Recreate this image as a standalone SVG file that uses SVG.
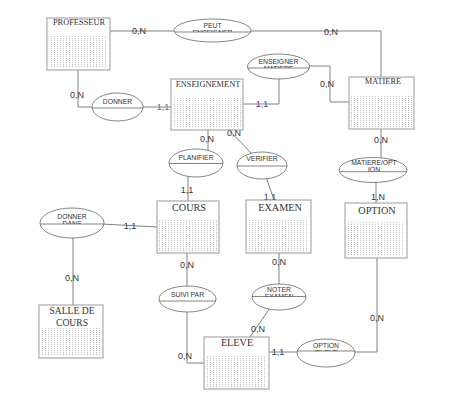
<svg xmlns="http://www.w3.org/2000/svg" width="459" height="400" viewBox="0 0 459 400">
<style>
.ent{fill:#fff;stroke:#999;stroke-width:1}
.dots{fill:url(#dots)}
.tt{font-family:"Liberation Serif",serif;fill:#333;text-anchor:middle}
.el{fill:#fff;stroke:#666;stroke-width:0.8}
.dv{stroke:#666;stroke-width:0.8}
.et{font-family:"Liberation Sans",Arial,sans-serif;font-size:6.8px;fill:#333;text-anchor:middle}
.cn{fill:none;stroke:#808080;stroke-width:1}
.lb{font-family:"Liberation Sans",Arial,sans-serif;font-size:9px;fill:#333;text-anchor:middle}
</style>
<defs>
<pattern id="dots" width="3" height="2" patternUnits="userSpaceOnUse"><rect width="1" height="1" fill="#c4c4c4"/></pattern>
<clipPath id="c1"><rect x="170" y="15" width="90" height="17"/></clipPath>
<clipPath id="c2"><rect x="240" y="50" width="80" height="18"/></clipPath>
<clipPath id="c3"><rect x="335" y="150" width="80" height="21.7"/></clipPath>
<clipPath id="c4"><rect x="35" y="205" width="75" height="19"/></clipPath>
<clipPath id="c5"><rect x="248" y="280" width="65" height="16.5"/></clipPath>
<clipPath id="c6"><rect x="293" y="335" width="66" height="16"/></clipPath>
</defs>
<rect width="459" height="400" fill="#fff"/>
<g id="connectors">
<path class="cn" d="M110,31 H180"/>
<path class="cn" d="M245,31 H381 V77"/>
<path class="cn" d="M305,66 H330 V102 H349"/>
<path class="cn" d="M279,75 V104 H243"/>
<path class="cn" d="M78,70 V107 H95"/>
<path class="cn" d="M140,107 H171"/>
<path class="cn" d="M208,130 V152"/>
<path class="cn" d="M229,130 L251,153"/>
<path class="cn" d="M188,174 V201"/>
<path class="cn" d="M266,177 L274,200"/>
<path class="cn" d="M381,129 V160"/>
<path class="cn" d="M376,180 V203"/>
<path class="cn" d="M377,258 V352 H352"/>
<path class="cn" d="M269,352 H300"/>
<path class="cn" d="M187,253 V289"/>
<path class="cn" d="M187,309 V363 H204"/>
<path class="cn" d="M279,253 V286"/>
<path class="cn" d="M270,308 L250,337"/>
<path class="cn" d="M102,224 L157,227"/>
<path class="cn" d="M73,236 V305"/>
<g class="lb">
<text x="139" y="34.2">0,N</text>
<text x="331" y="35.2">0,N</text>
<text x="77" y="98.2">0,N</text>
<text x="163" y="110.2" fill="#4a78b0">1,1</text>
<text x="262" y="107.2" fill="#5a3d7a">1,1</text>
<text x="327" y="87.2">0,N</text>
<text x="381" y="143.2">0,N</text>
<text x="378" y="200.2">1,N</text>
<text x="207" y="142.2">0,N</text>
<text x="234" y="136.2">0,N</text>
<text x="187" y="193.2">1,1</text>
<text x="270" y="200.2">1,1</text>
<text x="130" y="229.2">1,1</text>
<text x="72" y="281.2">0,N</text>
<text x="187" y="268.2">0,N</text>
<text x="279" y="265.2">0,N</text>
<text x="377" y="321.2">0,N</text>
<text x="258" y="332.2">0,N</text>
<text x="185" y="359.2">0,N</text>
<text x="278" y="355.2">1,1</text>
</g>
</g>
<g id="professeur">
<rect class="ent" x="47" y="18" width="63" height="52"/>
<rect class="dots" x="49" y="35" width="59" height="33"/>
<text class="tt" x="79" y="25" font-size="8.4">PROFESSEUR</text>
</g>
<g id="enseignement">
<rect class="ent" x="171" y="79" width="72" height="51"/>
<rect class="dots" x="173" y="97" width="68" height="31"/>
<text class="tt" x="208" y="86.7" font-size="8.4">ENSEIGNEMENT</text>
</g>
<g id="matiere">
<rect class="ent" x="349" y="77" width="65" height="52"/>
<rect class="dots" x="351" y="95" width="61" height="32"/>
<text class="tt" x="383" y="84.3" font-size="8.4">MATIERE</text>
</g>
<g id="cours">
<rect class="ent" x="157" y="201" width="62" height="52"/>
<rect class="dots" x="159" y="220" width="58" height="31"/>
<text class="tt" x="189" y="211" font-size="10.2">COURS</text>
</g>
<g id="examen">
<rect class="ent" x="246" y="200" width="65" height="53"/>
<rect class="dots" x="248" y="219" width="61" height="32"/>
<text class="tt" x="280" y="210.7" font-size="10.2">EXAMEN</text>
</g>
<g id="option">
<rect class="ent" x="345" y="203" width="62" height="55"/>
<rect class="dots" x="347" y="222" width="58" height="34"/>
<text class="tt" x="377" y="214.3" font-size="10.2">OPTION</text>
</g>
<g id="eleve">
<rect class="ent" x="204" y="337" width="65" height="52"/>
<rect class="dots" x="206" y="355" width="61" height="32"/>
<text class="tt" x="237" y="346" font-size="10.2">ELEVE</text>
</g>
<g id="salle-de-cours">
<rect class="ent" x="39" y="305" width="64" height="53"/>
<rect class="dots" x="41" y="327" width="60" height="29"/>
<text class="tt" x="72" y="314" font-size="9.6">SALLE DE</text>
<text class="tt" x="72" y="325.5" font-size="9.6">COURS</text>
</g>
<g id="peut-enseigner">
<ellipse class="el" cx="212.5" cy="30.5" rx="38.5" ry="11.5"/>
<line class="dv" x1="174.5" y1="32" x2="250.5" y2="32"/>
<text class="et" x="212.5" y="27.5">PEUT</text>
<text class="et" x="212.5" y="35" clip-path="url(#c1)">ENSEIGNER</text>
</g>
<g id="enseigner-matiere">
<ellipse class="el" cx="278.5" cy="66.5" rx="31" ry="12.5"/>
<line class="dv" x1="247.6" y1="68" x2="309.4" y2="68"/>
<text class="et" x="278.5" y="64">ENSEIGNER</text>
<text class="et" x="278.5" y="70.8" clip-path="url(#c2)">MATIERE</text>
</g>
<g id="donner">
<ellipse class="el" cx="117.5" cy="107" rx="25.5" ry="14"/>
<line class="dv" x1="92" y1="108" x2="143" y2="108"/>
<text class="et" x="117.5" y="104">DONNER</text>
</g>
<g id="planifier">
<ellipse class="el" cx="196" cy="163" rx="27" ry="14"/>
<line class="dv" x1="169" y1="163.5" x2="223" y2="163.5"/>
<text class="et" x="196" y="159.5">PLANIFIER</text>
</g>
<g id="verifier">
<ellipse class="el" cx="262" cy="165.5" rx="25" ry="13.5"/>
<line class="dv" x1="237" y1="166" x2="287" y2="166"/>
<text class="et" x="262" y="160.5">VERIFIER</text>
</g>
<g id="matiere-option">
<ellipse class="el" cx="373" cy="170" rx="34" ry="12.5"/>
<line class="dv" x1="339.2" y1="171.7" x2="406.8" y2="171.7"/>
<text class="et" x="374" y="164.5" font-size="7.5">MATIERE/OPT</text>
<text class="et" x="374" y="172.2" font-size="7.5" clip-path="url(#c3)">ION</text>
</g>
<g id="donner-dans">
<ellipse class="el" cx="72" cy="223" rx="32" ry="15"/>
<line class="dv" x1="40.1" y1="224" x2="103.9" y2="224"/>
<text class="et" x="72" y="218.5">DONNER</text>
<text class="et" x="72" y="226" clip-path="url(#c4)">DANS</text>
</g>
<g id="suivi-par">
<ellipse class="el" cx="187.5" cy="299" rx="28.5" ry="13"/>
<line class="dv" x1="159.2" y1="301" x2="215.8" y2="301"/>
<text class="et" x="187.5" y="296.5">SUIVI PAR</text>
</g>
<g id="noter-examen">
<ellipse class="el" cx="279" cy="297" rx="27" ry="13"/>
<line class="dv" x1="252" y1="296.5" x2="306" y2="296.5"/>
<text class="et" x="279" y="291.7">NOTER</text>
<text class="et" x="279" y="299.2" clip-path="url(#c5)">EXAMEN</text>
</g>
<g id="option-eleve">
<ellipse class="el" cx="326" cy="353" rx="29" ry="14"/>
<line class="dv" x1="297.1" y1="351" x2="354.9" y2="351"/>
<text class="et" x="326" y="348.3">OPTION</text>
<text class="et" x="326" y="355" clip-path="url(#c6)">/ELEVE</text>
</g>
</svg>
